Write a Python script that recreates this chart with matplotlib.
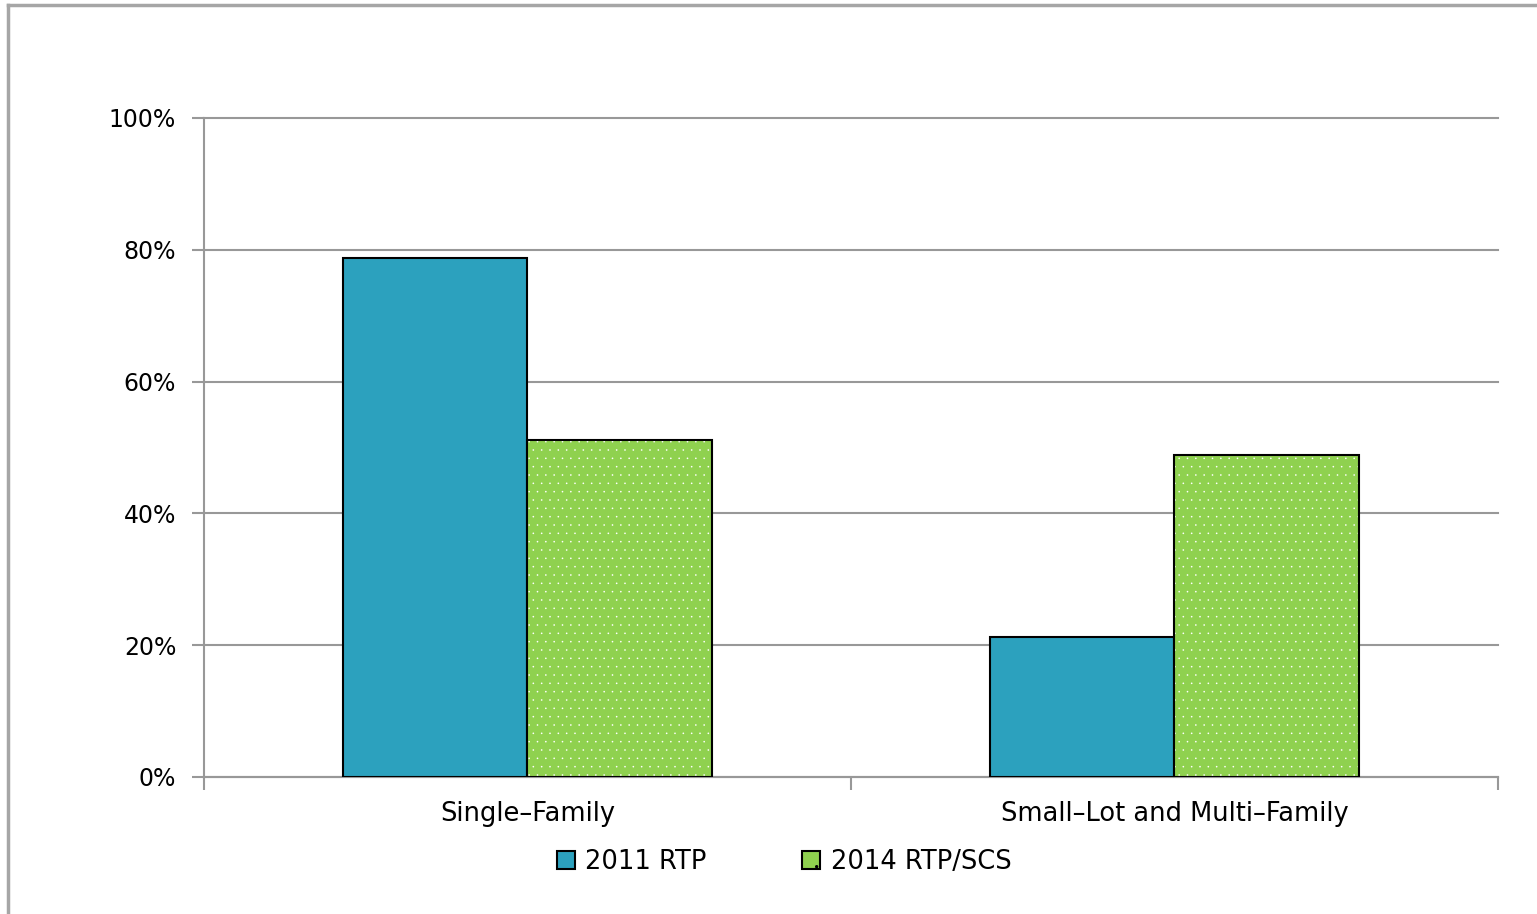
import matplotlib.pyplot as plt
import numpy as np
from matplotlib.lines import Line2D
from matplotlib.patches import Patch

categories = ["Single\u2013Family", "Small\u2013Lot and Multi\u2013Family"]
series_names = ["2011 RTP", "2014 RTP/SCS"]
rtp_2011 = [78.7, 21.3]
rtp_2014 = [51.2, 48.8]
y_ticks = [0, 20, 40, 60, 80, 100]

blue = "#2CA1BE"
green = "#8FD14F"
grey = "#989898"

plt.rcParams["font.family"] = ["DejaVu Sans"]
plt.rcParams["hatch.linewidth"] = 0.0

fig = plt.figure(figsize=(15.37, 9.14), dpi=100)
ax = fig.add_axes([0.1327, 0.1499, 0.9746 - 0.1327, 0.8709 - 0.1499])

x = np.arange(len(categories))
w = 1 / 3.5

ax.bar(x - w / 2, rtp_2011, w, color=blue, edgecolor="black", linewidth=1.5, zorder=3)
# dotted fill first, then a plain black outline on top
ax.bar(x + w / 2, rtp_2014, w, color=green, edgecolor="white", hatch="..", linewidth=0, zorder=3)
ax.bar(x + w / 2, rtp_2014, w, fill=False, edgecolor="black", linewidth=1.5, zorder=4)

ax.set_xlim(-0.5, len(categories) - 0.5)
ax.set_ylim(0, 100)
ax.set_yticks(y_ticks)
ax.set_yticklabels([f"{v}%" for v in y_ticks], fontsize=17)
ax.set_xticks(x)
ax.set_xticklabels(categories, fontsize=18.5)
ax.set_xticks(np.arange(-0.5, len(categories)), minor=True)
ax.tick_params(axis="x", which="major", length=0, pad=17)
ax.tick_params(axis="x", which="minor", length=9, width=1.5, color=grey)
ax.tick_params(axis="y", length=9, width=1.5, color=grey, pad=11)

ax.yaxis.grid(True, color=grey, linewidth=1.5, zorder=0)
for gl in ax.yaxis.get_gridlines():
    gl.set_clip_on(False)
ax.set_axisbelow(True)
for side in ["top", "right"]:
    ax.spines[side].set_visible(False)
for side in ["left", "bottom"]:
    ax.spines[side].set_color(grey)
    ax.spines[side].set_linewidth(1.5)

handles = [
    Patch(facecolor=blue, edgecolor="black", linewidth=1.5),
    Patch(facecolor=green, edgecolor="black", linewidth=1.5, hatch="."),
]
fig.legend(handles, series_names, loc="center", bbox_to_anchor=(0.510, 0.057),
           ncol=2, frameon=False, fontsize=18.5, handlelength=0.72, handleheight=0.72,
           handletextpad=0.4, columnspacing=3.7)

# outer chart-area border (top and left edges)
fig.add_artist(Line2D([8 / 1537, 1], [1 - 5 / 914, 1 - 5 / 914], color="#A6A6A6", linewidth=2.5))
fig.add_artist(Line2D([8 / 1537, 8 / 1537], [0, 1 - 5 / 914], color="#A6A6A6", linewidth=2.5))

fig.savefig("out.png", dpi=100)
